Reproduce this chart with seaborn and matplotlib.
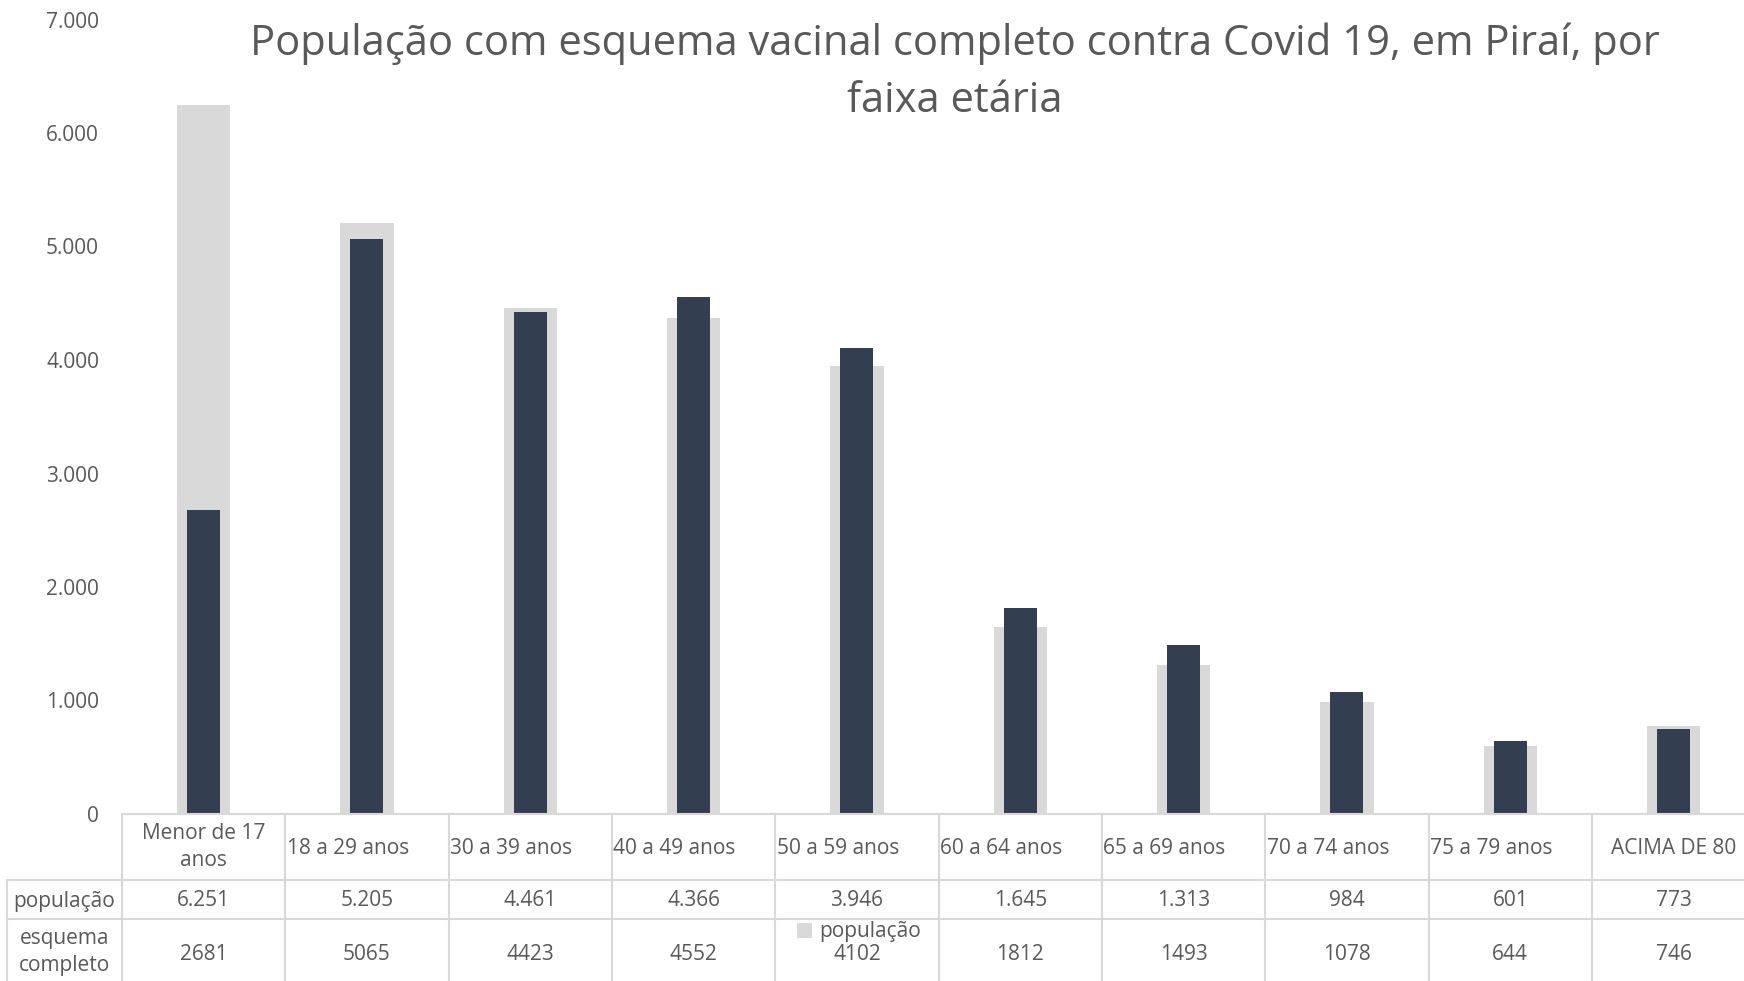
import matplotlib
matplotlib.use("Agg")
import matplotlib.pyplot as plt
import matplotlib.transforms as mtransforms
from matplotlib.patches import Patch
import seaborn as sns
import pandas as pd

# ---- data ----
categorias = ["Menor de 17\nanos", "18 a 29 anos", "30 a 39 anos", "40 a 49 anos",
              "50 a 59 anos", "60 a 64 anos", "65 a 69 anos", "70 a 74 anos",
              "75 a 79 anos", "ACIMA DE 80"]
populacao = [6251, 5205, 4461, 4366, 3946, 1645, 1313, 984, 601, 773]
esquema = [2681, 5065, 4423, 4552, 4102, 1812, 1493, 1078, 644, 746]
serie_labels = ["população", "esquema\ncompleto"]
titulo = "População com esquema vacinal completo contra Covid 19, em Piraí, por\nfaixa etária"
yticks = [0, 1000, 2000, 3000, 4000, 5000, 6000, 7000]

df = pd.DataFrame({"categoria": categorias, "populacao": populacao, "esquema": esquema})

sns.set_theme(style="white")
plt.rcParams["font.family"] = ["Open Sans", "DejaVu Sans"]

TXT = "#595959"
GREY = "#D9D9D9"
DARK = "#333F50"
LINE = "#D9D9D9"

W, H = 1744, 981
fig = plt.figure(figsize=(W / 100, H / 100), dpi=100)
fig.patch.set_facecolor("white")

ax_left, ax_right, ax_bottom, ax_top = 122, 1755.3, 814, 19.5
ax = fig.add_axes([ax_left / W, (H - ax_bottom) / H, (ax_right - ax_left) / W, (ax_bottom - ax_top) / H])

sns.barplot(data=df, x="categoria", y="populacao", color=GREY, width=0.325,
            saturation=1, ax=ax, linewidth=0, edgecolor="none")
sns.barplot(data=df, x="categoria", y="esquema", color=DARK, width=0.202,
            saturation=1, ax=ax, linewidth=0, edgecolor="none")

ax.set_xlim(-0.5, len(categorias) - 0.5)
ax.set_ylim(0, 7000)
ax.set_xlabel("")
ax.set_ylabel("")
ax.tick_params(axis="x", length=0, labelbottom=False)
ax.set_yticks(yticks)
ax.set_yticklabels([f"{v:,}".replace(",", ".") for v in yticks])
ax.tick_params(axis="y", length=0, pad=16.5, labelsize=15, labelcolor=TXT)
for s in ["left", "right", "top"]:
    ax.spines[s].set_visible(False)
ax.spines["bottom"].set_color(LINE)
ax.spines["bottom"].set_linewidth(1.5)
ax.grid(False)
if ax.get_legend() is not None:
    ax.get_legend().remove()

def fy(px):
    return 1 - px / H

trans = mtransforms.blended_transform_factory(ax.transData, fig.transFigure)

# table geometry (pixel rows)
row_top, row1, row2, row_bot = 815, 880, 919, 990
left_col = 7
y_head = 849
y_pop = 901
y_esq = 954

# vertical lines between categories
for i in range(len(categorias) + 1):
    ax.plot([i - 0.5, i - 0.5], [fy(row_top), fy(row_bot)], color=LINE, lw=1.5,
            transform=trans, clip_on=False)
# left column border
fig.add_artist(plt.Line2D([left_col / W, left_col / W], [fy(row1), fy(row_bot)],
                          color=LINE, lw=1.5, transform=fig.transFigure))
for yy in (row1, row2):
    fig.add_artist(plt.Line2D([left_col / W, 1.0], [fy(yy), fy(yy)],
                              color=LINE, lw=1.5, transform=fig.transFigure))

fs = 15
# header labels
for i, lab in enumerate(categorias):
    if "\n" in lab:
        ax.text(i, fy(y_head - 2), lab, ha="center", va="center", fontsize=fs,
                color=TXT, transform=trans, linespacing=1.38)
    elif lab.isupper():
        ax.text(i, fy(y_head), lab, ha="center", va="center", fontsize=fs,
                color=TXT, transform=trans)
    else:
        ax.text(i - 0.5 + 0.008, fy(y_head), lab, ha="left", va="center",
                fontsize=fs, color=TXT, transform=trans)

# row labels
fig.text((left_col + 122) / 2 / W, fy(y_pop), serie_labels[0], ha="center",
         va="center", fontsize=fs, color=TXT)
fig.text((left_col + 122) / 2 / W, fy(952), serie_labels[1], ha="center",
         va="center", fontsize=fs, color=TXT, linespacing=1.38)

for i, (p, e) in enumerate(zip(populacao, esquema)):
    ax.text(i, fy(y_pop), f"{p:,}".replace(",", "."), ha="center", va="center",
            fontsize=fs, color=TXT, transform=trans)
    ax.text(i, fy(y_esq), f"{e}", ha="center", va="center",
            fontsize=fs, color=TXT, transform=trans)

# legend (overlapping the table as in the reference)
fig.legend(handles=[Patch(facecolor=GREY, edgecolor="none")], labels=[serie_labels[0]],
           loc="center left", bbox_to_anchor=(797 / W, fy(932)), frameon=False,
           fontsize=fs, labelcolor=TXT, handlelength=0.7, handleheight=0.7,
           handletextpad=0.35, borderpad=0, borderaxespad=0)

# title
fig.text(955 / W, fy(72), titulo, ha="center", va="center", fontsize=30,
         color=TXT, linespacing=1.46)

fig.savefig("out.png", dpi=100)
